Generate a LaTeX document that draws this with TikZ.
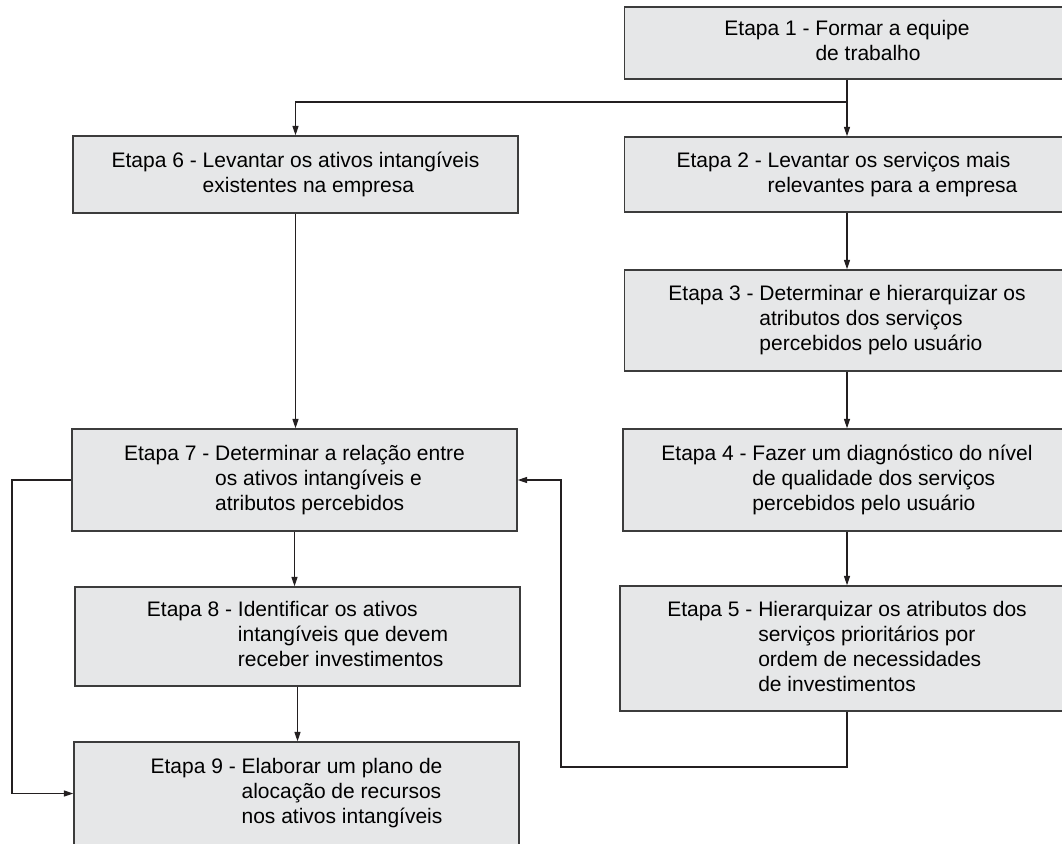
\documentclass[tikz,border=0pt]{standalone}
\usepackage{fontspec}
\setmainfont{Liberation Sans}
\usetikzlibrary{arrows.meta}
\definecolor{boxfill}{HTML}{E6E7E8}
\definecolor{boxline}{HTML}{3C3C3C}
\definecolor{connline}{HTML}{231F20}
\newcommand{\etapa}[2]{\begin{tabular}{@{}l@{\ }l@{}}Etapa #1 - & #2\end{tabular}}
\begin{document}
\begin{tikzpicture}[x=0.75pt,y=-0.75pt,
  box/.style={draw=boxline, fill=boxfill, line width=1.1pt, inner sep=0pt,
    font=\fontsize{15.75}{18.75}\selectfont},
  conn/.style={draw=connline, line width=0.9pt},
  arr/.style={conn, -{Triangle[length=7pt,width=4.5pt]}}]
\useasboundingbox (0,0) rectangle (1062,843);
% right column
\node[box, minimum width=333.75pt, minimum height=54pt] (b1) at (847,43)
  {\etapa{1}{Formar a equipe\\ & de trabalho}};
\node[box, minimum width=333.75pt, minimum height=56.25pt] (b2) at (847,174.5)
  {\etapa{2}{Levantar os serviços mais\\ & relevantes para a empresa}};
\node[box, minimum width=333.75pt, minimum height=75.75pt] (b3) at (847,320.5)
  {\etapa{3}{Determinar e hierarquizar os\\ & atributos dos serviços\\ & percebidos pelo usuário}};
\node[box, minimum width=336pt, minimum height=76.5pt] (b4) at (847,480)
  {\etapa{4}{Fazer um diagnóstico do nível\\ & de qualidade dos serviços\\ & percebidos pelo usuário}};
\node[box, minimum width=340.5pt, minimum height=93.75pt] (b5) at (847,648.5)
  {\etapa{5}{Hierarquizar os atributos dos\\ & serviços prioritários por\\ & ordem de necessidades\\ & de investimentos}};
% left column
\node[box, minimum width=333.75pt, minimum height=57.75pt] (b6) at (295.5,174.5)
  {\etapa{6}{Levantar os ativos intangíveis\\ & existentes na empresa}};
\node[box, minimum width=333.75pt, minimum height=76.5pt] (b7) at (294.5,480)
  {\etapa{7}{Determinar a relação entre\\ & os ativos intangíveis e\\ & atributos percebidos}};
\node[box, minimum width=333.75pt, minimum height=74.25pt] (b8) at (297.5,636.5)
  {\etapa{8}{Identificar os ativos\\ & intangíveis que devem\\ & receber investimentos}};
\node[box, minimum width=333.75pt, minimum height=77.25pt] (b9) at (296.5,793.5)
  {\etapa{9}{Elaborar um plano de\\ & alocação de recursos\\ & nos ativos intangíveis}};
% connectors
\coordinate (j1) at (847,102);
\coordinate (f1) at (561,767);
\coordinate (f2) at (12,793.5);
\draw[arr] (b1.south) -- (b2.north);
\draw[arr] (j1) -| (b6.north);
\draw[arr] (b2.south) -- (b3.north);
\draw[arr] (b3.south) -- (b4.north);
\draw[arr] (b4.south) -- (b5.north);
\draw[arr] (b6.south) -- (b6.south |- b7.north);
\draw[arr] (b7.south) -- (b7.south |- b8.north);
\draw[arr] (b8.south) -- (b8.south |- b9.north);
\draw[arr] (b5.south) |- (f1) |- (b7.east);
\draw[arr] (b7.west) -| (f2) -- (b9.west);
\end{tikzpicture}
\end{document}
